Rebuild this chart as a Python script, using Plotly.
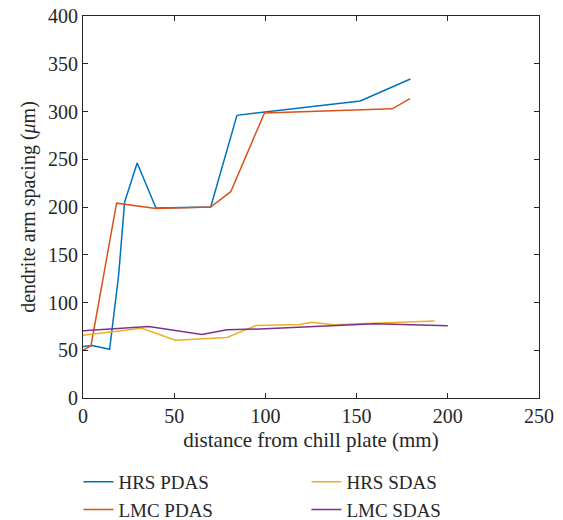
import plotly.graph_objects as go

# Primary dendrite arm spacing (PDAS)
hrs_pdas_x = [0, 5, 14.6, 19.5, 22.8, 29.7, 40, 70, 84.4, 152, 179.5]
hrs_pdas_y = [54, 55, 51, 128, 205, 246, 199, 200, 296, 311, 334]
lmc_pdas_x = [0, 4.4, 18.4, 40, 70, 81, 99.5, 169.5, 179.3]
lmc_pdas_y = [50, 55, 204, 198.5, 200, 216, 298.5, 302.8, 313.5]

# Secondary dendrite arm spacing (SDAS)
hrs_sdas_x = [0, 32.3, 50.6, 78.9, 95, 119, 125.5, 137.3, 192.7]
hrs_sdas_y = [65.8, 73.1, 60.5, 63.3, 76, 77, 79.4, 76.6, 80.5]
lmc_sdas_x = [0, 36, 65.2, 78.9, 100, 160, 200]
lmc_sdas_y = [70.3, 74.9, 66.5, 71.4, 72.4, 77.7, 75.6]

# PDAS entries go in the left legend column, SDAS in the right one
series = [
    ("HRS PDAS", hrs_pdas_x, hrs_pdas_y, "#0072BD", "legend"),
    ("LMC PDAS", lmc_pdas_x, lmc_pdas_y, "#D95319", "legend"),
    ("HRS SDAS", hrs_sdas_x, hrs_sdas_y, "#EDB120", "legend2"),
    ("LMC SDAS", lmc_sdas_x, lmc_sdas_y, "#7E2F8E", "legend2"),
]

fig = go.Figure()
for name, xs, ys, color, leg in series:
    fig.add_trace(go.Scatter(
        x=xs, y=ys, mode="lines", name=name,
        line=dict(color=color, width=1.5),
        legend=leg,
    ))

font_family = "Liberation Serif, DejaVu Serif, serif"
axis_color = "#262626"

axis_common = dict(
    showline=True, linecolor=axis_color, linewidth=1.2, mirror="ticks",
    ticks="inside", ticklen=5, tickcolor=axis_color, tickwidth=1,
    showgrid=False, zeroline=False,
    tickfont=dict(family=font_family, size=20, color=axis_color),
)

fig.update_xaxes(
    range=[0, 250], tickvals=[0, 50, 100, 150, 200, 250],
    title=dict(text="distance from chill plate (mm)",
               font=dict(family=font_family, size=21, color=axis_color),
               standoff=6),
    **axis_common,
)
fig.update_yaxes(
    range=[0, 400], tickvals=[0, 50, 100, 150, 200, 250, 300, 350, 400],
    title=dict(text="dendrite arm spacing (<i>μ</i>m)",
               font=dict(family=font_family, size=20, color=axis_color),
               standoff=6),
    **axis_common,
)

legend_common = dict(
    orientation="v", xanchor="left", y=-0.17, yanchor="top",
    font=dict(family=font_family, size=19, color=axis_color),
    tracegroupgap=0, itemwidth=30, bgcolor="rgba(0,0,0,0)",
)

fig.update_layout(
    width=563, height=520,
    margin=dict(l=83, r=24, t=16, b=122, autoexpand=False),
    plot_bgcolor="white", paper_bgcolor="white",
    showlegend=True,
    legend=dict(x=-0.01, **legend_common),
    legend2=dict(x=0.49, **legend_common),
)

fig.write_html("out.html")
